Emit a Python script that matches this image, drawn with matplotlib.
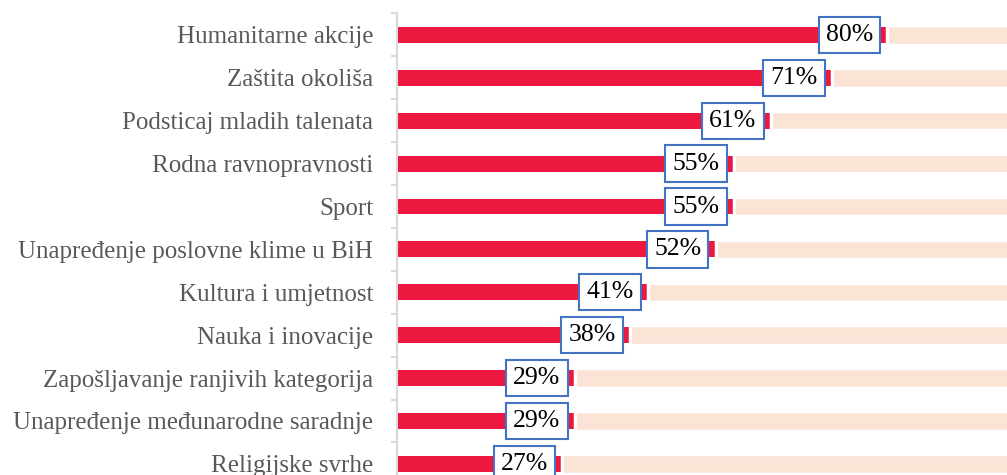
import matplotlib.pyplot as plt
import numpy as np

categories = ["Humanitarne akcije", "Zaštita okoliša", "Podsticaj mladih talenata",
              "Rodna ravnopravnosti", "Sport", "Unapređenje poslovne klime u BiH",
              "Kultura i umjetnost", "Nauka i inovacije", "Zapošljavanje ranjivih kategorija",
              "Unapređenje međunarodne saradnje", "Religijske svrhe"]
values = [80, 71, 61, 55, 55, 52, 41, 38, 29, 29, 27]
labels = ["80%", "71%", "61%", "55%", "55%", "52%", "41%", "38%", "29%", "29%", "27%"]

red = "#EC1840"
peach = "#FBE3D6"
blue = "#4472C4"
grey = "#D9D9D9"

plt.rcParams['font.family'] = ['Liberation Serif', 'DejaVu Serif']

fig = plt.figure(figsize=(10.07, 4.75), dpi=100)
ax = fig.add_axes([0.3942, 0.0, 0.6087, 0.9716])

y = np.arange(len(categories))
vals = np.array(values)
ax.barh(y, vals, height=0.373, color=red, zorder=2)
ax.barh(y, 100 - vals, left=vals, height=0.455, color=peach,
        edgecolor="white", linewidth=2.5, zorder=3)

for yi, v, lab in zip(y, values, labels):
    ax.text(v - 6.2, yi, lab, ha="center", va="center", fontsize=18.5, color="black",
            zorder=5,
            bbox=dict(boxstyle="square,pad=0.28", facecolor="white",
                      edgecolor=blue, linewidth=1.5))

ax.set_yticks(y)
ax.set_yticklabels(categories, fontsize=18, color="#595959")
ax.set_yticks(np.arange(-0.5, len(categories), 1), minor=True)
ax.tick_params(axis="y", which="major", length=0, pad=17)
ax.tick_params(axis="y", which="minor", length=4.3, width=1.5, color=grey)
ax.set_xticks([])
ax.set_xlim(0, 100)
ax.set_ylim(10.26, -0.5)
for s in ["top", "right", "bottom"]:
    ax.spines[s].set_visible(False)
ax.spines["left"].set_color(grey)
ax.spines["left"].set_linewidth(1.5)

plt.savefig("out.png", dpi=100)
